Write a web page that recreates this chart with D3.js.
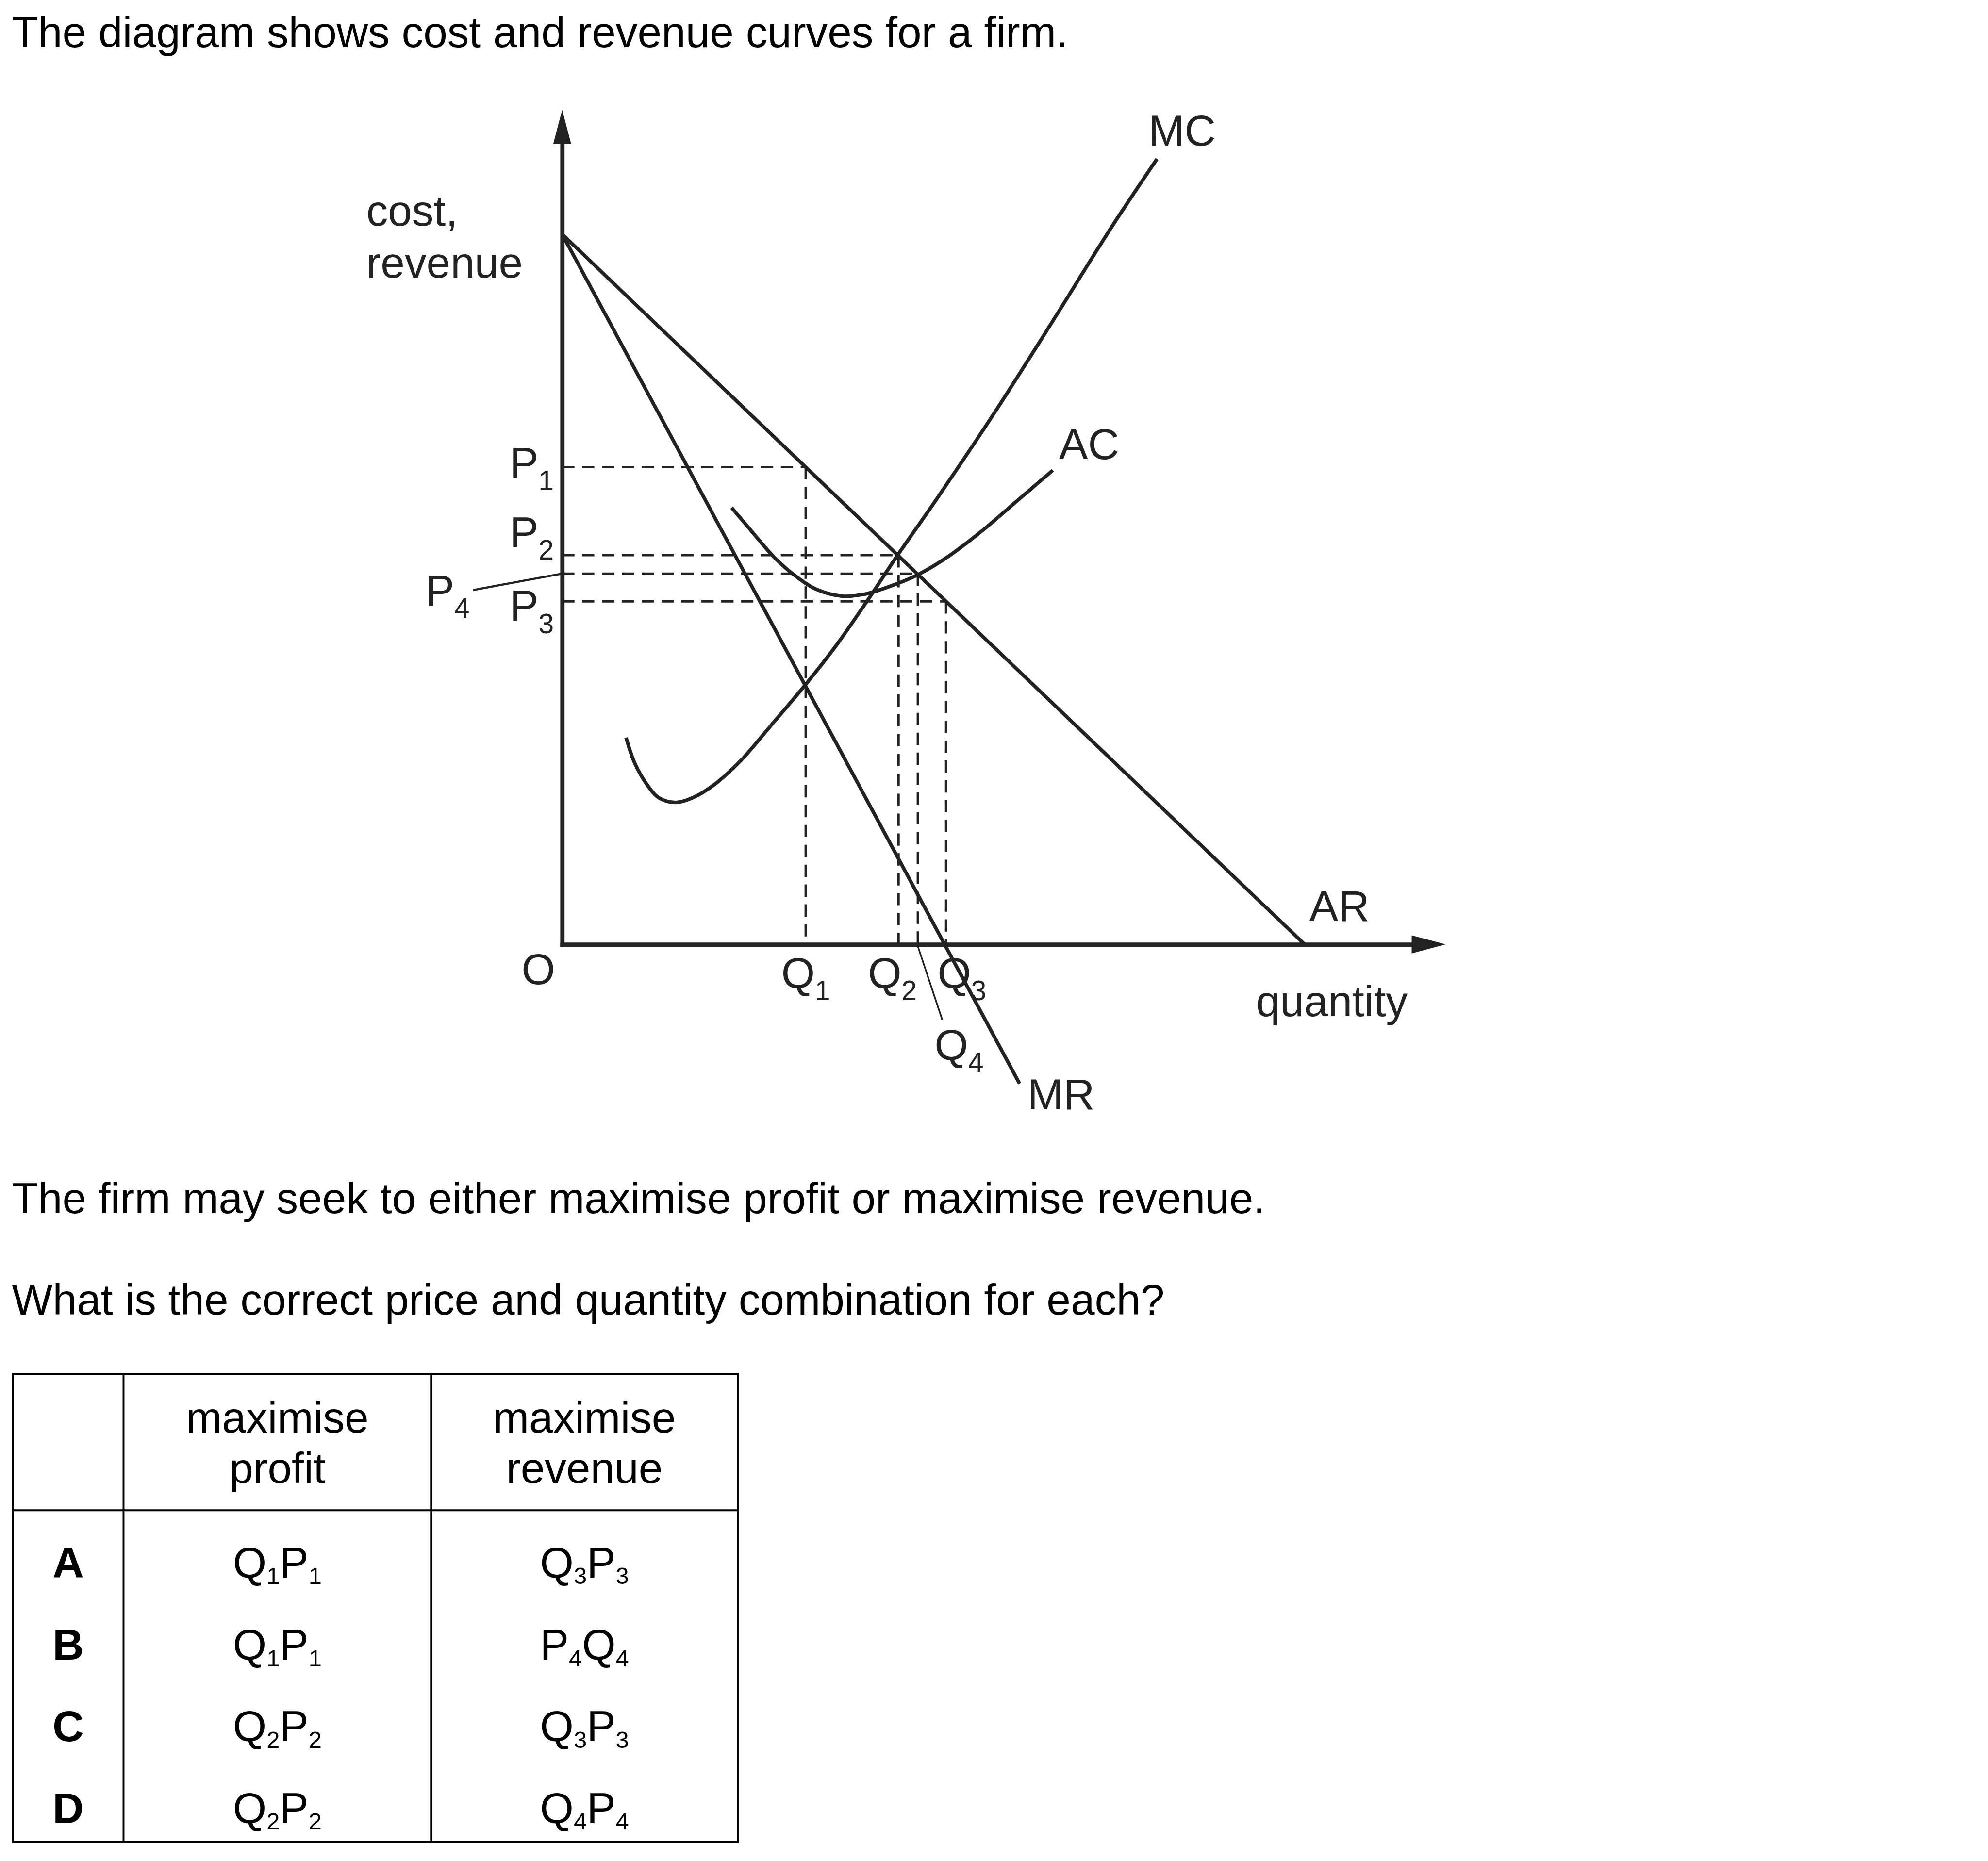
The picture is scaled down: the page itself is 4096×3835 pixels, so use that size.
<!DOCTYPE html>
<html><head><meta charset="utf-8">
<script src="https://cdn.jsdelivr.net/npm/d3@7"></script>
<style>html,body{margin:0;padding:0;background:#fff;overflow:hidden;} svg{display:block;}</style>
</head><body>
<script>
// ================= DATA =================
const titleText = "The diagram shows cost and revenue curves for a firm.";
const questionLines = [
  "The firm may seek to either maximise profit or maximise revenue.",
  "What is the correct price and quantity combination for each?"
];
const yAxisTitle = ["cost,", "revenue"];
const xAxisTitle = "quantity";
const originLabel = "O";

// curve values (quantity, cost/revenue) in arbitrary diagram units
const arQ = [0, 100];
const arC = [100, 0];
const mrQ = [0, 61.6];
const mrC = [100, -19.6];
const mcQ = [8.6, 9.75, 11.41, 13.0, 15.3, 17.59, 20.52, 24.09, 27.98, 32.82, 36.78, 41.3, 45.19, 50.1, 58.06, 65.97, 73.87, 80.11];
const mcC = [29.11, 25.58, 22.52, 20.65, 19.99, 20.65, 22.52, 25.92, 30.65, 36.64, 41.91, 48.7, 54.83, 62.2, 74.6, 87.6, 100.8, 110.59];
const acQ = [22.82, 25.37, 28.62, 31.55, 34.16, 37.73, 40.98, 44.87, 47.99, 52.01, 56.85, 61.31, 66.09];
const acC = [61.49, 58.36, 54.43, 51.77, 50.03, 49.03, 49.37, 50.70, 52.10, 54.63, 58.49, 62.49, 66.76];

// price / quantity reference levels
const qLabels = ["Q1", "Q2", "Q3", "Q4"];
const qValues = [32.8, 45.3, 51.7, 47.9];
const pLabels = ["P1", "P2", "P3", "P4"];
const pValues = [67.2, 54.8, 48.3, 52.2];

// axis extents (diagram units)
const xAxisMax = 119;
const yAxisMax = 117.5;

// answer table
const tableHeaders = [["maximise", "profit"], ["maximise", "revenue"]];
const optionLetters = ["A", "B", "C", "D"];
const profitAnswers = ["Q1P1", "Q1P1", "Q2P2", "Q2P2"];
const revenueAnswers = ["Q3P3", "P4Q4", "Q3P3", "Q4P4"];

// ================= LAYOUT =================
const S = 0.975;
const FONT = "'Liberation Sans', Arial, Helvetica, sans-serif";
const FS = 91.5;
const INK = "#000";
const LINE = "#222";

const svg = d3.select("body").append("svg")
  .attr("width", 4096).attr("height", 3835);
svg.append("rect").attr("width", 4096).attr("height", 3835).attr("fill", "#fff");
const root = svg.append("g").attr("transform", `scale(${S})`);

const x = d3.scaleLinear().domain([0, 100]).range([1188, 2757]);
const y = d3.scaleLinear().domain([0, 100]).range([1996, 495]);

function plainText(g, px, py, str, opts = {}) {
  return g.append("text")
    .attr("x", px).attr("y", py)
    .attr("font-family", FONT)
    .attr("font-size", opts.size || FS)
    .attr("font-weight", opts.weight || "normal")
    .attr("text-anchor", opts.anchor || "start")
    .attr("fill", opts.fill || INK)
    .text(str);
}

// label like "Q1P1" with subscripts
function subText(g, px, py, str, opts = {}) {
  const size = opts.size || FS, subSize = opts.subSize || 58, dy = opts.dy || 26;
  const t = g.append("text")
    .attr("x", px).attr("y", py)
    .attr("font-family", FONT)
    .attr("font-size", size)
    .attr("text-anchor", opts.anchor || "start")
    .attr("fill", opts.fill || INK);
  const parts = [...str.matchAll(/([A-Za-z]+)(\d*)/g)];
  let lowered = false;
  parts.forEach(m => {
    const main = t.append("tspan").text(m[1]);
    if (lowered) { main.attr("dy", -dy); lowered = false; }
    if (m[2]) {
      t.append("tspan").attr("font-size", subSize).attr("dy", dy).text(m[2]);
      lowered = true;
    }
  });
  return t;
}

// ---- text above / below ----
plainText(root, 25, 99, titleText);
plainText(root, 25, 2564, questionLines[0]);
plainText(root, 25, 2778, questionLines[1]);

// ---- diagram ----
const chart = root.append("g");

// dashed guide lines
const dash = chart.append("g")
  .attr("fill", "none").attr("stroke", LINE)
  .attr("stroke-width", 5).attr("stroke-dasharray", "26,16");
qValues.forEach((q, i) => {
  const p = pValues[i];
  dash.append("path").attr("d", d3.line()([[x(0), y(p)], [x(q), y(p)]]));
  dash.append("path").attr("d", d3.line()([[x(q), y(p)], [x(q), y(0)]]));
});

// curves
const lineGen = d3.line().x(d => x(d[0])).y(d => y(d[1]));
const smoothGen = d3.line().x(d => x(d[0])).y(d => y(d[1])).curve(d3.curveCatmullRom.alpha(0.5));
const curves = chart.append("g").attr("fill", "none").attr("stroke", LINE)
  .attr("stroke-width", 7.5).attr("stroke-linejoin", "round");
curves.append("path").attr("d", lineGen(d3.zip(arQ, arC)));
curves.append("path").attr("d", lineGen(d3.zip(mrQ, mrC)));
curves.append("path").attr("d", smoothGen(d3.zip(mcQ, mcC)));
curves.append("path").attr("d", smoothGen(d3.zip(acQ, acC)));

// axes
const arrowLen = 72, arrowHalf = 19;
const xTip = x(xAxisMax), yTip = y(yAxisMax);
const xAxisScale = d3.scaleLinear().domain([0, 1]).range([x(0), xTip - arrowLen]);
const yAxisScale = d3.scaleLinear().domain([0, 1]).range([y(0), yTip + arrowLen]);
const axX = chart.append("g").attr("transform", `translate(0,${y(0)})`)
  .call(d3.axisBottom(xAxisScale).tickValues([]).tickSizeOuter(0));
const axY = chart.append("g").attr("transform", `translate(${x(0)},0)`)
  .call(d3.axisLeft(yAxisScale).tickValues([]).tickSizeOuter(0));
[axX, axY].forEach(a => a.select(".domain")
  .attr("stroke", LINE).attr("stroke-width", 9).attr("stroke-linecap", "square"));
chart.append("path").attr("fill", LINE)
  .attr("d", `M${xTip},${y(0)}L${xTip - arrowLen},${y(0) - arrowHalf}L${xTip - arrowLen},${y(0) + arrowHalf}Z`);
chart.append("path").attr("fill", LINE)
  .attr("d", `M${x(0)},${yTip}L${x(0) - arrowHalf},${yTip + arrowLen}L${x(0) + arrowHalf},${yTip + arrowLen}Z`);

// leader lines for P4 and Q4
const lead = chart.append("g").attr("stroke", LINE).attr("fill", "none");
lead.append("path").attr("stroke-width", 4.5)
  .attr("d", d3.line()([[1000, 1247], [x(0), y(pValues[3])]]));
lead.append("path").attr("stroke-width", 3.5)
  .attr("d", d3.line()([[x(qValues[3]), y(0) + 4], [1991, 2155]]));

// chart labels
const lbl = chart.append("g");
plainText(lbl, 774, 477, yAxisTitle[0], {fill: LINE});
plainText(lbl, 774, 587, yAxisTitle[1], {fill: LINE});
plainText(lbl, 2654, 2148, xAxisTitle, {fill: LINE});
plainText(lbl, 1102, 2080, originLabel, {fill: LINE});
plainText(lbl, 2427, 308, "MC", {fill: LINE});
plainText(lbl, 2238, 970, "AC", {fill: LINE});
plainText(lbl, 2767, 1947, "AR", {fill: LINE});
plainText(lbl, 2171, 2345, "MR", {fill: LINE});

const pLabelPos = [[1077, 1010], [1077, 1157], [1077, 1312], [899, 1280]];
pLabels.forEach((s, i) => subText(lbl, pLabelPos[i][0], pLabelPos[i][1], s, {fill: LINE}));
const qLabelPos = [[1651, 2088], [1834, 2088], [1981, 2088], [1975, 2240]];
qLabels.forEach((s, i) => subText(lbl, qLabelPos[i][0], qLabelPos[i][1], s, {fill: LINE}));

// ---- answer table ----
const tbl = root.append("g");
const tL = 27, tR = 1559, tT = 2904, tB = 3893, c1 = 261, c2 = 911, hB = 3192;
const tlines = tbl.append("g").attr("stroke", INK).attr("stroke-width", 4).attr("fill", "none");
tlines.append("rect").attr("x", tL).attr("y", tT).attr("width", tR - tL).attr("height", tB - tT);
tlines.append("line").attr("x1", c1).attr("x2", c1).attr("y1", tT).attr("y2", tB);
tlines.append("line").attr("x1", c2).attr("x2", c2).attr("y1", tT).attr("y2", tB);
tlines.append("line").attr("x1", tL).attr("x2", tR).attr("y1", hB).attr("y2", hB);

const colCenters = [(tL + c1) / 2, (c1 + c2) / 2, (c2 + tR) / 2];
tableHeaders.forEach((hdr, j) => {
  hdr.forEach((ln, k) => plainText(tbl, colCenters[j + 1], 3028 + k * 106, ln, {anchor: "middle"}));
});
const rowBase = [3334, 3508, 3680, 3853];
optionLetters.forEach((L, i) => {
  plainText(tbl, colCenters[0], rowBase[i], L, {anchor: "middle", weight: "bold"});
  subText(tbl, colCenters[1], rowBase[i], profitAnswers[i], {anchor: "middle", subSize: 50, dy: 14});
  subText(tbl, colCenters[2], rowBase[i], revenueAnswers[i], {anchor: "middle", subSize: 50, dy: 14});
});
</script>
</body></html>
